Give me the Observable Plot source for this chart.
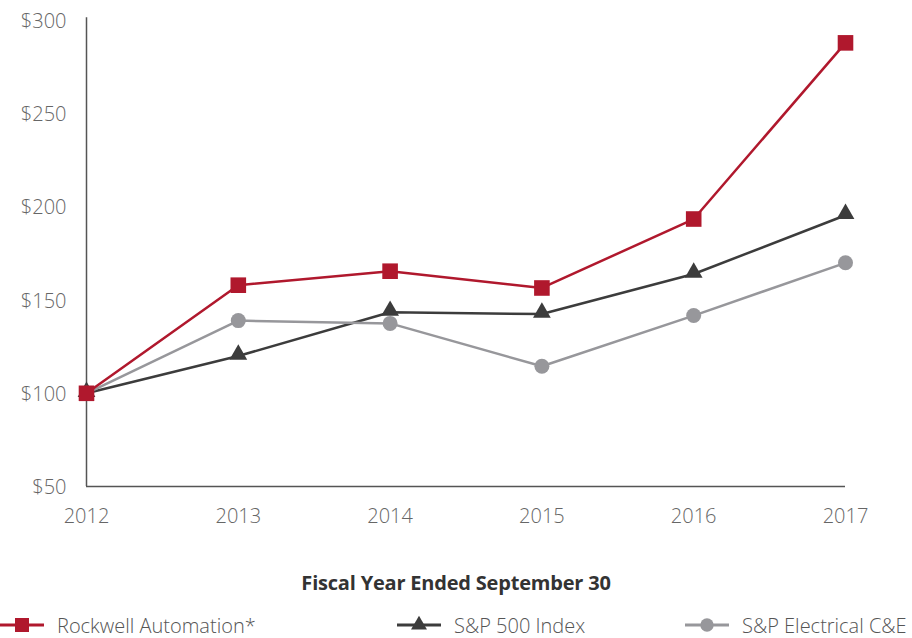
<!DOCTYPE html>
<html>
<head>
<meta charset="utf-8">
<script src="https://cdn.jsdelivr.net/npm/d3@7"></script>
<script src="https://cdn.jsdelivr.net/npm/@observablehq/plot@0.6"></script>
<style>
  html, body { margin: 0; padding: 0; background: #fff; }
  #wrap { position: relative; width: 912px; height: 638px; font-family: "Open Sans", sans-serif; overflow: hidden; }
  #chart svg { display: block; }
  #xtitle { position: absolute; left: 0; width: 912px; top: 569px; text-align: center; font-size: 20px; font-weight: 700; color: #333; letter-spacing: -0.2px; }
  .leg { position: absolute; top: 612px; height: 26px; display: flex; align-items: center; font-size: 20px; font-weight: 300; color: #555; white-space: nowrap; }
  .leg svg { margin-right: 13px; flex: none; }
</style>
</head>
<body>
<div id="wrap">
  <div id="chart"></div>
  <div id="xtitle">Fiscal Year Ended September 30</div>
  <div id="legend"></div>
</div>
<script>
const years = [2012, 2013, 2014, 2015, 2016, 2017];
const rockwell = [100, 158, 165.5, 156.5, 193.5, 288];
const sp500 = [100, 120, 143.5, 142.5, 164, 195.5];
const electrical = [100, 139, 137.5, 114.5, 141.7, 170];
const yTicks = [50, 100, 150, 200, 250, 300];
const seriesNames = ["Rockwell Automation*", "S&P 500 Index", "S&P Electrical C&E"];
const colors = ["#b0182d", "#3c3c3c", "#97979b"];

const toRows = (vals) => years.map((y, i) => ({year: y, value: vals[i]}));
const rRows = toRows(rockwell), sRows = toRows(sp500), eRows = toRows(electrical);

const chart = Plot.plot({
  width: 912,
  height: 540,
  marginLeft: 86,
  marginRight: 67,
  marginTop: 20,
  marginBottom: 54,
  style: {fontFamily: "'Open Sans', sans-serif", fontSize: "20px", color: "#666", background: "#fff"},
  x: {domain: [2012, 2017], ticks: years, tickFormat: d => String(d), label: null},
  y: {domain: [50, 300], ticks: yTicks, tickFormat: d => "$" + d, label: null},
  marks: [
    Plot.axisX({ticks: years, tickFormat: d => String(d), tickSize: 0, tickPadding: 22, label: null, fontWeight: 300}),
    Plot.axisY({ticks: yTicks, tickFormat: d => "$" + d, tickSize: 0, tickPadding: 20, dy: 1, label: null, fontWeight: 300}),
    Plot.ruleY([50], {stroke: "#555", strokeWidth: 1.5}),
    Plot.ruleX([2012], {stroke: "#555", strokeWidth: 1.5, y1: 50, y2: 301.5}),
    Plot.line(sRows, {x: "year", y: "value", stroke: colors[1], strokeWidth: 2.5}),
    Plot.dot(sRows, {x: "year", y: "value", symbol: "triangle", r: 6.6, dy: -1.5, fill: colors[1], stroke: null}),
    Plot.line(eRows, {x: "year", y: "value", stroke: colors[2], strokeWidth: 2.5}),
    Plot.dot(eRows, {x: "year", y: "value", symbol: "circle", r: 7.5, fill: colors[2], stroke: null}),
    Plot.line(rRows, {x: "year", y: "value", stroke: colors[0], strokeWidth: 2.5}),
    Plot.dot(rRows, {x: "year", y: "value", symbol: "square", r: 8.8, fill: colors[0], stroke: null})
  ]
});
document.getElementById("chart").appendChild(chart);

// Legend
const legendPos = [{left: 0, sym: "square"}, {left: 397, sym: "triangle"}, {left: 685, sym: "circle"}];
const legend = document.getElementById("legend");
seriesNames.forEach((name, i) => {
  const div = document.createElement("div");
  div.className = "leg";
  div.style.left = legendPos[i].left + "px";
  const ns = "http://www.w3.org/2000/svg";
  const svg = document.createElementNS(ns, "svg");
  svg.setAttribute("width", 44); svg.setAttribute("height", 26);
  const line = document.createElementNS(ns, "line");
  line.setAttribute("x1", 0); line.setAttribute("x2", 44); line.setAttribute("y1", 13); line.setAttribute("y2", 13);
  line.setAttribute("stroke", colors[i]); line.setAttribute("stroke-width", 3);
  svg.appendChild(line);
  const path = document.createElementNS(ns, "path");
  const symMap = {square: d3.symbolSquare, triangle: d3.symbolTriangle, circle: d3.symbolCircle};
  const sizes = {square: 196, triangle: 110, circle: 140};
  path.setAttribute("d", d3.symbol(symMap[legendPos[i].sym], sizes[legendPos[i].sym])());
  path.setAttribute("transform", "translate(22,13)");
  path.setAttribute("fill", colors[i]);
  svg.appendChild(path);
  div.appendChild(svg);
  const span = document.createElement("span");
  span.textContent = name;
  div.appendChild(span);
  legend.appendChild(div);
});
</script>
</body>
</html>
